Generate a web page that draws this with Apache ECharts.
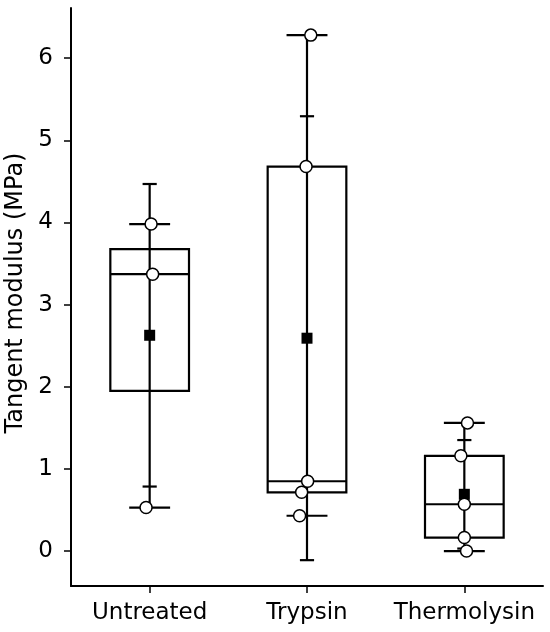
<!DOCTYPE html>
<html><head><meta charset="utf-8">
<script src="https://cdn.jsdelivr.net/npm/echarts@6/dist/echarts.min.js"></script>
<style>html,body{margin:0;padding:0;background:#fff}#c{width:550px;height:632px}</style>
</head><body><div id="c"></div>
<script>
// ---- data ----
const categories = ['Untreated', 'Trypsin', 'Thermolysin'];
const untreated = [3.98, 3.37, 0.53];
const trypsin = [6.28, 4.68, 0.85, 0.715, 0.43];
const thermolysin = [1.56, 1.16, 0.57, 0.165, 0.0];
// small horizontal offsets of the individual points (category units)
const untreatedJitter = [0.009, 0.019, -0.023];
const trypsinJitter = [0.024, -0.006, 0.004, -0.034, -0.047];
const thermolysinJitter = [0.02, -0.022, 0.0, 0.0, 0.014];
const yTicks = [0, 1, 2, 3, 4, 5, 6];
const xTicks = [1, 2, 3];

// ---- derived statistics ----
function quantile(sorted, p) {
  const pos = (sorted.length - 1) * p, lo = Math.floor(pos), hi = Math.ceil(pos);
  return sorted[lo] + (sorted[hi] - sorted[lo]) * (pos - lo);
}
function stats(arr, x) {
  const s = arr.slice().sort((a, b) => a - b);
  const n = s.length;
  const mean = s.reduce((a, b) => a + b, 0) / n;
  const sd = Math.sqrt(s.reduce((a, b) => a + (b - mean) * (b - mean), 0) / (n - 1));
  return { box: [x, quantile(s, 0.25), quantile(s, 0.5), quantile(s, 0.75), s[0], s[n - 1], mean - sd, mean + sd], mean: [x, mean] };
}
const groups = [untreated, trypsin, thermolysin];
const jitters = [untreatedJitter, trypsinJitter, thermolysinJitter];
const st = groups.map((g, i) => stats(g, xTicks[i]));
const boxData = st.map(s => s.box);
const meanData = st.map(s => s.mean);
const pointData = [];
groups.forEach((g, i) => g.forEach((v, j) => pointData.push([xTicks[i] + jitters[i][j], v])));

const chart = echarts.init(document.getElementById('c'));
const font = 'DejaVu Sans';
chart.setOption({
  animation: false,
  backgroundColor: '#fff',
  grid: { left: 71, right: 7, top: 8, bottom: 46, containLabel: false, outerBoundsMode: 'none' },
  xAxis: {
    type: 'value', min: 0.5, max: 3.5,
    splitLine: { show: false },
    axisLine: { show: true, onZero: false, lineStyle: { color: '#000', width: 2 } },
    axisTick: { show: true, customValues: xTicks, length: 7, lineStyle: { color: '#000', width: 1.5 } },
    axisLabel: { customValues: xTicks, margin: 16, color: '#000', fontSize: 23, fontFamily: font,
      formatter: v => categories[Math.round(v) - 1] }
  },
  yAxis: {
    type: 'value', min: -0.425, max: 6.61,
    name: 'Tangent modulus (MPa)', nameLocation: 'middle', nameGap: 40,
    nameTextStyle: { color: '#000', fontSize: 24, fontFamily: font, padding: [0, 0, 0, 8] },
    splitLine: { show: false },
    axisLine: { show: true, onZero: false, lineStyle: { color: '#000', width: 2 } },
    axisTick: { show: true, customValues: yTicks, length: 7, lineStyle: { color: '#000', width: 1.5 } },
    axisLabel: { customValues: yTicks, margin: 18, color: '#000', fontSize: 23, fontFamily: font }
  },
  series: [
    {
      type: 'custom', z: 1, data: boxData,
      renderItem(params, api) {
        const x = api.value(0);
        const q1 = api.value(1), med = api.value(2), q3 = api.value(3);
        const mn = api.value(4), mx = api.value(5), sl = api.value(6), sh = api.value(7);
        const unit = api.size([1, 0])[0];
        const bw = 0.25 * unit, cw = 0.13 * unit, sw = 0.045 * unit;
        const y = v => api.coord([x, v])[1];
        const px = api.coord([x, med])[0];
        const lo = Math.min(mn, sl), hi = Math.max(mx, sh);
        const st = { stroke: '#000', lineWidth: 2.2, fill: null };
        const line = (x1, y1, x2, y2) => ({ type: 'line', shape: { x1, y1, x2, y2 }, style: st });
        return {
          type: 'group',
          children: [
            { type: 'rect', shape: { x: px - bw, y: y(q3), width: 2 * bw, height: y(q1) - y(q3) }, style: st },
            line(px - bw, y(med), px + bw, y(med)),
            line(px, y(lo), px, y(hi)),
            line(px - cw, y(mn), px + cw, y(mn)),
            line(px - cw, y(mx), px + cw, y(mx)),
            line(px - sw, y(sl), px + sw, y(sl)),
            line(px - sw, y(sh), px + sw, y(sh))
          ]
        };
      }
    },
    {
      type: 'scatter', z: 2, data: meanData, symbol: 'rect', symbolSize: 11,
      itemStyle: { color: '#000', opacity: 1 }
    },
    {
      type: 'scatter', z: 3, data: pointData, symbol: 'circle', symbolSize: 12,
      itemStyle: { color: '#fff', borderColor: '#000', borderWidth: 1.5, opacity: 1 }
    }
  ]
});
</script>
</body></html>
